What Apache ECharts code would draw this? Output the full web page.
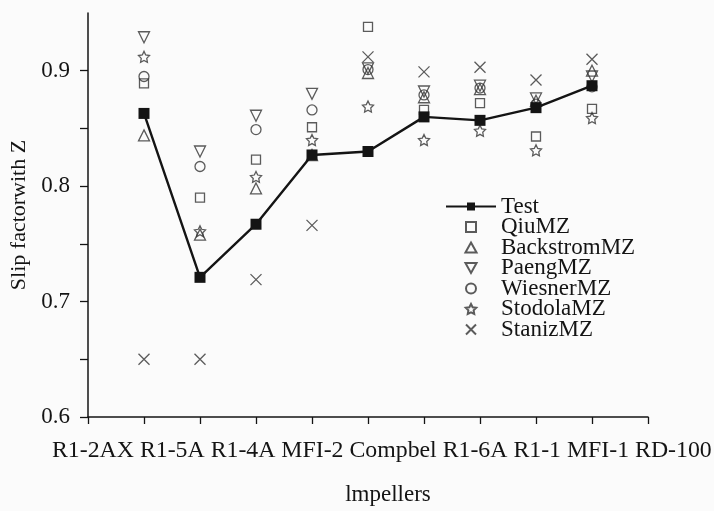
<!DOCTYPE html>
<html>
<head>
<meta charset="utf-8">
<title>Slip factor with Z</title>
<script src="https://cdn.jsdelivr.net/npm/echarts@6/dist/echarts.min.js"></script>
<style>
  html, body { margin: 0; padding: 0; background: #fbfbfb; }
  #main { width: 714px; height: 511px; }
</style>
</head>
<body>
<div id="main"></div>
<script>
// impellers along the x axis (data sits on ticks 1..9)
var categories = ['R1-2AX', 'R1-5A', 'R1-4A', 'MFI-2', 'Compbel', 'R1-6A', 'R1-1', 'MFI-1', 'RD-100'];

// slip factor values
var testData      = [0.863, 0.721, 0.767, 0.827, 0.830, 0.860, 0.857, 0.868, 0.887];
var qiuData       = [0.889, 0.790, 0.823, 0.851, 0.938, 0.866, 0.872, 0.843, 0.867];
var backstromData = [0.844, 0.758, 0.798, 0.827, 0.898, 0.877, 0.884, 0.874, 0.900];
var paengData     = [0.929, 0.830, 0.861, 0.880, 0.902, 0.882, 0.887, 0.876, 0.895];
var wiesnerData   = [0.895, 0.817, 0.849, 0.866, 0.901, 0.879, 0.885, 0.871, 0.886];
var stodolaData   = [0.912, 0.761, 0.808, 0.840, 0.869, 0.840, 0.848, 0.831, 0.859];
var stanizData    = [0.650, 0.650, 0.719, 0.766, 0.912, 0.899, 0.903, 0.892, 0.910];

var yTickLabels = ['0.6', '0.7', '0.8', '0.9'];

var FONT = "'Liberation Serif', 'Times New Roman', serif";
var INK = '#141414';

// marker shapes as paths so the legend keeps their aspect
var SQUARE = 'path://M0,0L10,0L10,10L0,10Z';
var TRI_UP = 'path://M5,0L10,9L0,9Z';
var TRI_DOWN = 'path://M0,0L10,0L5,9Z';
var STAR = 'path://M10,0L12.94,5.95L19.51,6.91L14.76,11.55L15.88,18.09L10,15L4.12,18.09L5.24,11.55L0.49,6.91L7.06,5.95Z';
var CROSS = 'path://M0,0L10,10M10,0L0,10';

function toPoints(arr) {
  return arr.map(function (v, i) { return [i + 1, v]; });
}

function hollow(name, data, symbol, size) {
  return {
    name: name,
    type: 'scatter',
    data: toPoints(data),
    symbol: symbol,
    symbolSize: size,
    itemStyle: { color: 'transparent', borderColor: '#333', borderWidth: 1.3 },
    z: 3
  };
}

var chart = echarts.init(document.getElementById('main'));

var option = {
  backgroundColor: '#fbfbfb',
  animation: false,
  textStyle: { fontFamily: FONT, color: INK },
  grid: { left: 88, right: 66, top: 13, bottom: 89 },
  legend: {
    orient: 'vertical',
    left: 445,
    top: 195,
    padding: 0,
    itemWidth: 50,
    itemHeight: 10,
    itemGap: -2.5,
    symbolKeepAspect: true,
    textStyle: { fontFamily: FONT, fontSize: 23, color: INK },
    data: ['Test', 'QiuMZ', 'BackstromMZ', 'PaengMZ', 'WiesnerMZ', 'StodolaMZ', 'StanizMZ']
  },
  xAxis: {
    type: 'value',
    min: 0,
    max: 10,
    interval: 1,
    name: 'lmpellers',
    nameLocation: 'middle',
    nameGap: 66,
    nameTextStyle: { fontFamily: FONT, fontSize: 23, color: INK, padding: [0, 0, 0, 40] },
    axisLine: { lineStyle: { color: INK, width: 1.5 } },
    axisTick: { show: true, inside: false, length: 7, lineStyle: { color: INK, width: 1.3 } },
    axisLabel: { show: false },
    splitLine: { show: false }
  },
  yAxis: {
    type: 'value',
    min: 0.6,
    max: 0.95,
    interval: 0.05,
    name: 'Slip factorwith Z',
    nameLocation: 'middle',
    nameGap: 52,
    nameTextStyle: { fontFamily: FONT, fontSize: 22, color: INK },
    axisLine: { show: true, lineStyle: { color: INK, width: 1.5 } },
    axisTick: { show: true, inside: false, length: 8, lineStyle: { color: INK, width: 1.3 } },
    axisLabel: {
      fontFamily: FONT,
      fontSize: 23,
      color: INK,
      margin: 18,
      showMaxLabel: false,
      formatter: function (v) {
        var s = v.toFixed(1);
        return (Math.round(v * 100) % 10 === 0 && yTickLabels.indexOf(s) >= 0) ? s : '';
      }
    },
    splitLine: { show: false }
  },
  // the impeller names run as one line of text under the axis, as in the figure
  graphic: [{
    type: 'text',
    left: 52,
    top: 439,
    style: {
      text: categories.join(' '),
      font: "23.8px 'Liberation Serif', 'Times New Roman', serif",
      fill: INK
    }
  }],
  series: [
    {
      name: 'Test',
      type: 'line',
      data: toPoints(testData),
      symbol: 'rect',
      symbolSize: 11,
      lineStyle: { color: INK, width: 2.4 },
      itemStyle: { color: INK },
      z: 4
    },
    hollow('QiuMZ', qiuData, SQUARE, 9),
    hollow('BackstromMZ', backstromData, TRI_UP, 11),
    hollow('PaengMZ', paengData, TRI_DOWN, 11),
    hollow('WiesnerMZ', wiesnerData, 'circle', 10),
    hollow('StodolaMZ', stodolaData, STAR, 11),
    hollow('StanizMZ', stanizData, CROSS, 11)
  ]
};

chart.setOption(option);
</script>
</body>
</html>
